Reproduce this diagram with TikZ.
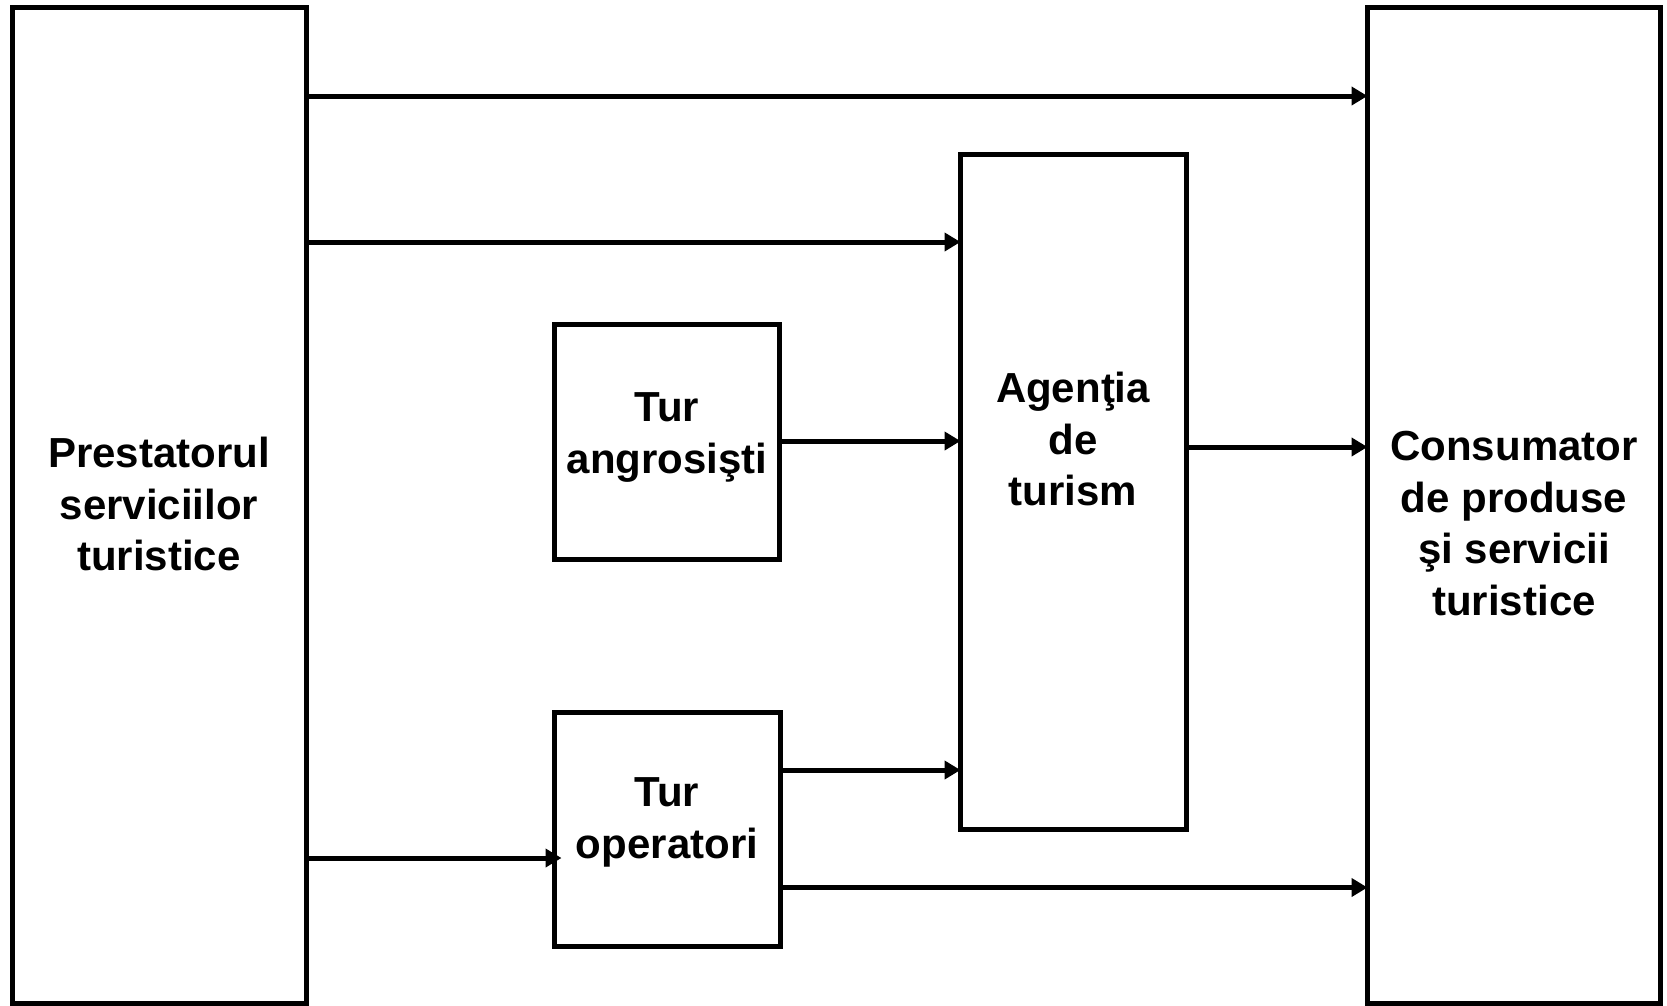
\documentclass[tikz,border=0pt]{standalone}
\usepackage{fontspec}
\setmainfont{Liberation Sans}
\usetikzlibrary{arrows.meta}
\begin{document}
\begin{tikzpicture}[x=1pt,y=-1pt,
  box/.style={draw=black, line width=5pt, fill=white, inner sep=0pt, outer sep=0pt},
  lbl/.style={align=center, inner sep=0pt, font=\fontsize{42}{51.5}\selectfont\bfseries},
  arr/.style={line width=5pt, -{Triangle[length=16pt,width=18pt]}}]
\useasboundingbox (0,0) rectangle (1667,1005);
% boxes
\node[box, minimum width=293.5pt, minimum height=995.5pt] (L) at (159.25,505.25) {};
\node[box, minimum width=292.5pt, minimum height=995.5pt] (R) at (1513.75,505.25) {};
\node[box, minimum width=226pt, minimum height=674.5pt] (A) at (1073.5,491.75) {};
\node[box, minimum width=225pt, minimum height=234.5pt] (G) at (667,441.75) {};
\node[box, minimum width=226pt, minimum height=234pt] (O) at (667.5,829.5) {};
% labels
\node[lbl] (Lt) at (159,504) {Prestatorul\\serviciilor\\turistice};
\node[lbl] (Rt) at (1514,523.5) {Consumator\\de produse\\şi servicii\\turistice};
\node[lbl] (At) at (1073,439) {Agenţia\\de\\turism};
\node[lbl] (Gt) at (667,437.5) {Tur\\angrosişti};
\node[lbl] (Ot) at (667,822.5) {Tur\\operatori};
% connectors
\draw[arr] (L.east |- 0,96) -- (R.west |- 0,96);
\draw[arr] (L.east |- 0,242) -- (A.west |- 0,242);
\draw[arr] (G.east |- 0,441) -- (A.west |- 0,441);
\draw[arr] (A.east |- 0,447) -- (R.west |- 0,447);
\draw[arr, shorten >=-7pt] (L.east |- 0,858) -- (O.west |- 0,858);
\draw[arr] (O.east |- 0,770) -- (A.west |- 0,770);
\draw[arr] (O.east |- 0,887.5) -- (R.west |- 0,887.5);
\end{tikzpicture}
\end{document}
